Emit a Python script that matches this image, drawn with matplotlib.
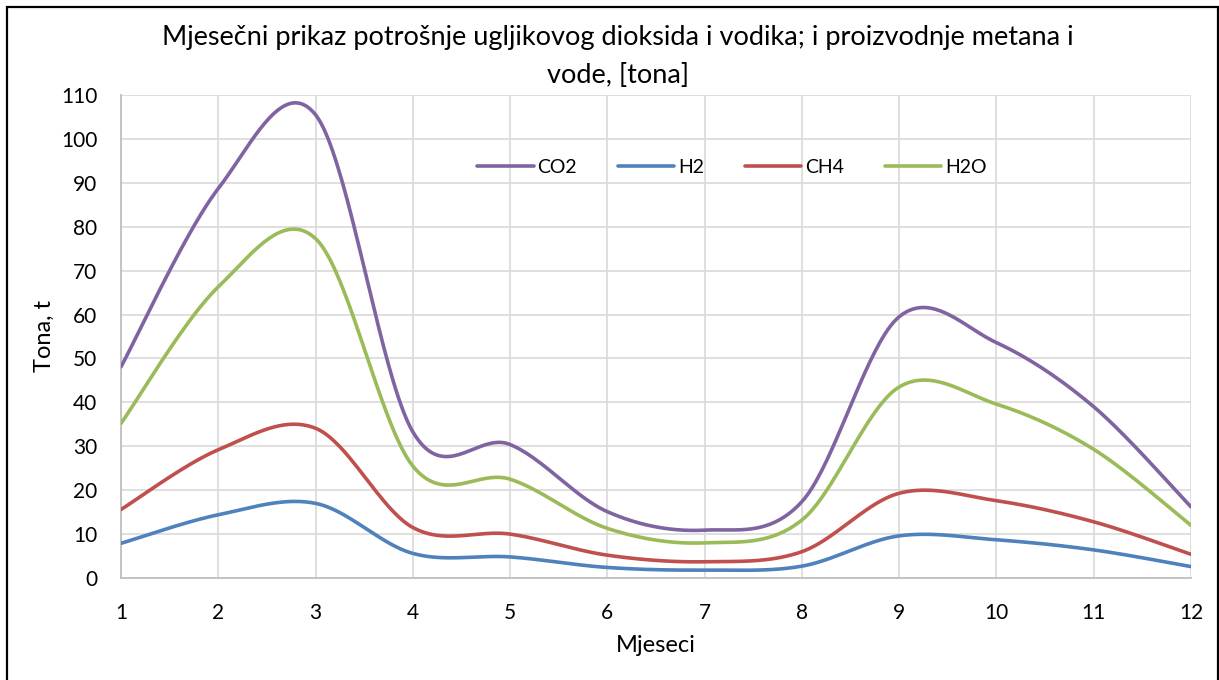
import numpy as np
import matplotlib
matplotlib.use("Agg")
import matplotlib.pyplot as plt
from matplotlib.patches import Rectangle

plt.rcParams['font.family'] = ['Lato', 'DejaVu Sans']

months = [1, 2, 3, 4, 5, 6, 7, 8, 9, 10, 11, 12]
co2 = [48.1, 88.7, 105.5, 33.3, 30.4, 15.1, 10.9, 17.4, 59.5, 53.6, 39.0, 16.2]
h2 = [7.9, 14.4, 17.0, 5.6, 4.8, 2.4, 1.8, 2.7, 9.6, 8.7, 6.4, 2.6]
ch4 = [15.6, 29.2, 34.1, 11.5, 10.0, 5.2, 3.7, 6.0, 19.3, 17.6, 12.8, 5.4]
h2o = [35.2, 66.3, 77.3, 25.5, 22.5, 11.3, 8.0, 13.2, 43.5, 39.6, 29.3, 12.0]

series_names = ['CO2', 'H2', 'CH4', 'H2O']
series_values = [co2, h2, ch4, h2o]
series_colors = ['#8064A2', '#4F81BD', '#C0504D', '#9BBB59']

title_text = "Mjesečni prikaz potrošnje ugljikovog dioksida i vodika; i proizvodnje metana i\nvode, [tona]"
xlabel_text = "Mjeseci"
ylabel_text = "Tona, t"
yticks = list(range(0, 111, 10))


def smooth(x, y, n=40):
    """Excel-like smoothed line: cubic Bezier through points (Catmull-Rom control points)."""
    x = np.asarray(x, float)
    y = np.asarray(y, float)
    P = np.column_stack([x, y])
    m = len(P)
    out = []
    for i in range(m - 1):
        p0 = P[i]
        p3 = P[i + 1]
        pm = P[i - 1] if i > 0 else P[i]
        pp = P[i + 2] if i + 2 < m else P[i + 1]
        c1 = p0 + (p3 - pm) / 6.0
        c2 = p3 - (pp - p0) / 6.0
        t = np.linspace(0, 1, n, endpoint=(i == m - 2))[:, None]
        seg = ((1 - t) ** 3) * p0 + 3 * ((1 - t) ** 2) * t * c1 + 3 * (1 - t) * t ** 2 * c2 + t ** 3 * p3
        out.append(seg)
    out = np.vstack(out)
    return out[:, 0], out[:, 1]


W, H = 1219, 680
fig = plt.figure(figsize=(W / 100, H / 100), dpi=100)
ax = fig.add_axes([121 / W, 1 - 578 / H, (1191 - 121) / W, (578 - 95) / H])

for name, vals, col in zip(series_names, series_values, series_colors):
    sx, sy = smooth(months, vals)
    ax.plot(sx, sy, color=col, lw=2.6, label=name, solid_capstyle='round', zorder=3)

ax.set_xlim(1, 12)
ax.set_ylim(0, 110)
ax.set_xticks(months)
ax.set_yticks(yticks)
ax.grid(True, color='#d9d9d9', lw=1.2, zorder=0)
ax.set_axisbelow(True)
for s in ['top', 'right']:
    ax.spines[s].set_visible(False)
for s in ['left', 'bottom']:
    ax.spines[s].set_color('#bfbfbf')
    ax.spines[s].set_linewidth(1.3)
ax.tick_params(axis='both', length=0, labelsize=15, colors='black')
ax.tick_params(axis='y', pad=17)
ax.tick_params(axis='x', pad=18)

ax.set_xlabel(xlabel_text, fontsize=17)
ax.set_ylabel(ylabel_text, fontsize=17)
ax.xaxis.set_label_coords(0.5, (578 - 646) / 483)
ax.xaxis.label.set_va('center')
ax.yaxis.set_label_coords((44 - 121) / 1070, 0.5)
ax.yaxis.label.set_va('center')

fig.text(618 / W, 1 - 56.5 / H, title_text, ha='center', va='center',
         fontsize=19.5, linespacing=1.65)

leg = ax.legend(loc='center', bbox_to_anchor=((732 - 121) / 1070, (578 - 167) / 483),
                ncol=4, frameon=False, fontsize=14, handlelength=2.9,
                handletextpad=0.2, columnspacing=2.1)

fig.add_artist(Rectangle((7 / W, -0.02), (1218 - 7) / W, 1.02 - 6.5 / H,
                         transform=fig.transFigure, fill=False, ec='black', lw=1.6))

fig.savefig('out.png', dpi=100)
